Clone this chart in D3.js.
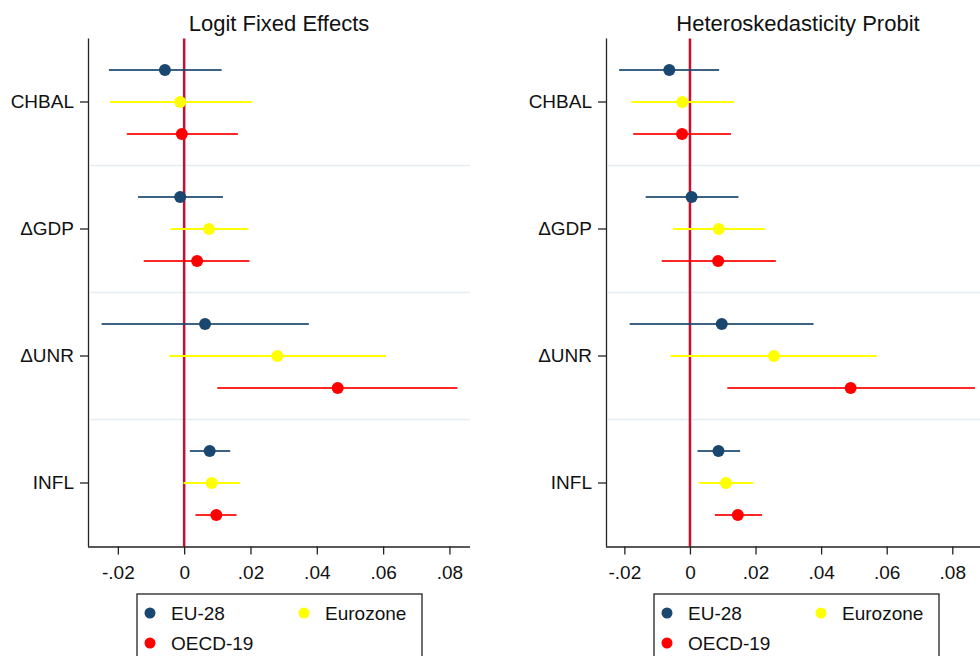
<!DOCTYPE html>
<html>
<head>
<meta charset="utf-8">
<script src="https://cdn.jsdelivr.net/npm/d3@7"></script>
<style>
  body { margin: 0; background: #fff; }
  text { font-family: "Liberation Sans", Arial, sans-serif; fill: #111; }
</style>
</head>
<body>
<svg id="chart" width="980" height="656"></svg>
<script>
const variables = ["CHBAL", "\u0394GDP", "\u0394UNR", "INFL"];
const groups = ["EU-28", "Eurozone", "OECD-19"];
const groupColors = ["#1a476f", "#ffff00", "#ff0000"];
const xTicks = [-0.02, 0, 0.02, 0.04, 0.06, 0.08];

// Logit Fixed Effects: rows = variables, cols = groups
const logitEst = [
  [-0.0058, -0.0012, -0.0007],
  [-0.0012, 0.0075, 0.0039],
  [0.0063, 0.0281, 0.0463],
  [0.0077, 0.0083, 0.0097]
];
const logitLo = [
  [-0.0227, -0.0223, -0.0173],
  [-0.0139, -0.0041, -0.0122],
  [-0.0249, -0.0045, 0.0100],
  [0.0017, -0.0002, 0.0034]
];
const logitHi = [
  [0.0113, 0.0206, 0.0162],
  [0.0117, 0.0194, 0.0197],
  [0.0376, 0.0608, 0.0824],
  [0.0139, 0.0168, 0.0158]
];

// Heteroskedasticity Probit
const probitEst = [
  [-0.0063, -0.0023, -0.0024],
  [0.0005, 0.0088, 0.0086],
  [0.0097, 0.0256, 0.0490],
  [0.0087, 0.0110, 0.0146]
];
const probitLo = [
  [-0.0216, -0.0179, -0.0173],
  [-0.0135, -0.0051, -0.0086],
  [-0.0184, -0.0059, 0.0114],
  [0.0023, 0.0027, 0.0076]
];
const probitHi = [
  [0.0089, 0.0135, 0.0125],
  [0.0148, 0.0229, 0.0262],
  [0.0377, 0.0570, 0.0869],
  [0.0153, 0.0193, 0.0220]
];

const svg = d3.select("#chart");
const plotTop = 38.5, plotBottom = 546.5;

function fmtTick(d) {
  if (d === 0) return "0";
  const s = Math.abs(d).toFixed(2).replace("0.", ".");
  return d < 0 ? "-" + s : s;
}

function panel(opts) {
  const g = svg.append("g");
  const x = d3.scaleLinear().domain(opts.domain).range([opts.left, opts.right]);
  const y = d3.scaleBand().domain(variables).range([plotTop, plotBottom]);
  const off = d3.scalePoint().domain(groups).range([-32, 32]);

  // title
  g.append("text")
    .attr("x", (opts.left + opts.right) / 2)
    .attr("y", 31)
    .attr("text-anchor", "middle")
    .attr("font-size", 22)
    .text(opts.title);

  // band separators
  g.selectAll("line.grid").data(variables.slice(1))
    .join("line")
    .attr("class", "grid")
    .attr("x1", opts.left + 2).attr("x2", opts.right)
    .attr("y1", d => y(d)).attr("y2", d => y(d))
    .attr("stroke", "#e3ecef")
    .attr("stroke-width", 1.6);

  // zero line
  g.append("line")
    .attr("x1", x(0)).attr("x2", x(0))
    .attr("y1", plotTop).attr("y2", plotBottom)
    .attr("stroke", "#c8102e")
    .attr("stroke-width", 2.5);

  const rows = [];
  variables.forEach((v, i) => {
    groups.forEach((grp, k) => {
      rows.push({v, grp, k, est: opts.est[i][k], lo: opts.lo[i][k], hi: opts.hi[i][k]});
    });
  });
  const cy = d => y(d.v) + y.bandwidth() / 2 + off(d.grp);

  g.selectAll("line.ci").data(rows)
    .join("line")
    .attr("class", "ci")
    .attr("x1", d => x(d.lo)).attr("x2", d => x(d.hi))
    .attr("y1", cy).attr("y2", cy)
    .attr("stroke", d => groupColors[d.k])
    .attr("stroke-opacity", d => d.k === 1 ? 1 : 0.85)
    .attr("stroke-width", 2);

  g.selectAll("circle.pt").data(rows)
    .join("circle")
    .attr("class", "pt")
    .attr("cx", d => x(d.est))
    .attr("cy", cy)
    .attr("r", 6)
    .attr("fill", d => groupColors[d.k]);

  // axes
  const xAxis = g.append("g")
    .attr("transform", `translate(0,${plotBottom})`)
    .call(d3.axisBottom(x).tickValues(xTicks).tickSize(8).tickPadding(11).tickFormat(fmtTick));
  xAxis.select(".domain").attr("d", `M${opts.left},0.5H${opts.right}`).attr("stroke", "#222").attr("stroke-width", 1.3);
  xAxis.selectAll(".tick line").attr("stroke", "#222").attr("stroke-width", 1.3);
  xAxis.selectAll(".tick text").attr("font-size", 19).attr("font-family", "Liberation Sans, Arial, sans-serif").attr("fill", "#111");

  const yAxis = g.append("g")
    .attr("transform", `translate(${opts.left},0)`)
    .call(d3.axisLeft(y).tickSize(8).tickPadding(6));
  yAxis.select(".domain").attr("d", `M0.5,${plotTop}V${plotBottom}`).attr("stroke", "#222").attr("stroke-width", 1.3);
  yAxis.selectAll(".tick line").attr("stroke", "#222").attr("stroke-width", 1.3);
  yAxis.selectAll(".tick text").attr("font-size", 19).attr("font-family", "Liberation Sans, Arial, sans-serif").attr("fill", "#111");

  // legend
  const lg = g.append("g").attr("transform", `translate(${opts.legendX},594)`);
  lg.append("rect")
    .attr("x", 0).attr("y", 0)
    .attr("width", 285).attr("height", 80)
    .attr("fill", "#fff")
    .attr("stroke", "#222").attr("stroke-width", 1.3);
  const pos = [[13, 19], [167, 19], [13, 49]];
  groups.forEach((grp, k) => {
    lg.append("circle")
      .attr("cx", pos[k][0]).attr("cy", pos[k][1])
      .attr("r", 5.5).attr("fill", groupColors[k]);
    lg.append("text")
      .attr("x", pos[k][0] + 21).attr("y", pos[k][1] + 7)
      .attr("font-size", 19)
      .text(grp);
  });
}

panel({
  title: "Logit Fixed Effects",
  domain: [-0.0290, 0.0862], left: 88, right: 470,
  est: logitEst, lo: logitLo, hi: logitHi, legendX: 137
});
panel({
  title: "Heteroskedasticity Probit",
  domain: [-0.0256, 0.0915], left: 606, right: 990,
  est: probitEst, lo: probitLo, hi: probitHi, legendX: 654
});
</script>
</body>
</html>
